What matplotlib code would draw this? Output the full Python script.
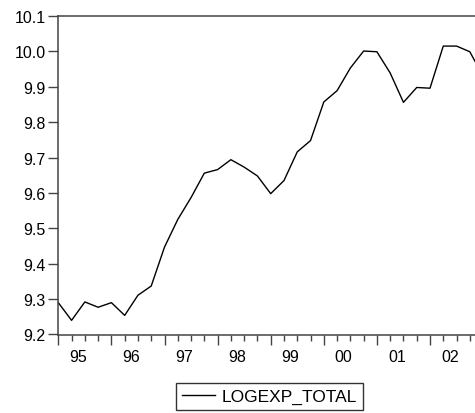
import numpy as np
import matplotlib
matplotlib.use("Agg")
import matplotlib.pyplot as plt
from matplotlib.ticker import MultipleLocator, FormatStrFormatter

plt.rcParams['font.family'] = ['Liberation Sans', 'DejaVu Sans']

# quarterly series, 1995Q1 onward
logexp_total = [9.290, 9.240, 9.292, 9.277, 9.290, 9.254, 9.311, 9.337,
                9.447, 9.525, 9.587, 9.656, 9.666, 9.694, 9.673, 9.648,
                9.598, 9.635, 9.716, 9.748, 9.857, 9.889, 9.953, 10.001,
                9.999, 9.939, 9.856, 9.898, 9.896, 10.015, 10.015, 9.999,
                9.930]
year_labels = ["95", "96", "97", "98", "99", "00", "01", "02"]
series_name = "LOGEXP_TOTAL"

x = np.arange(len(logexp_total))

fig = plt.figure(figsize=(4.75, 4.14), dpi=100)
# axes run past the right edge, like the cropped original
ax = fig.add_axes([58.3 / 475, 78.5 / 414, 32 * 13.275 / 475, 318.5 / 414])

line, = ax.plot(x, logexp_total, color='black', lw=1.0, label=series_name)

ax.set_xlim(0, 32)
ax.set_ylim(9.2, 10.1)
ax.yaxis.set_major_locator(MultipleLocator(0.1))
ax.yaxis.set_major_formatter(FormatStrFormatter('%.1f'))

ax.xaxis.set_major_locator(MultipleLocator(4))
ax.xaxis.set_minor_locator(MultipleLocator(1))
ax.set_xticklabels([])
for i, lab in enumerate(year_labels):
    ax.text(4 * i + 1.5, -0.045, lab, transform=ax.get_xaxis_transform(),
            ha='center', va='top', fontsize=11.5)

ax.tick_params(axis='y', which='major', direction='out', length=7, width=1,
               color='#444444', labelsize=11.5, pad=2)
ax.tick_params(axis='x', which='major', direction='out', length=7, width=1,
               color='#444444')
ax.tick_params(axis='x', which='minor', direction='out', length=4, width=1,
               color='#444444')

for s in ['left', 'bottom', 'top', 'right']:
    ax.spines[s].set_color('#444444')
    ax.spines[s].set_linewidth(1.1)

leg = fig.legend(handles=[line], loc='center',
                 bbox_to_anchor=(269.7 / 475, 16.5 / 414),
                 fontsize=12.5, frameon=True, fancybox=False,
                 edgecolor='black', handlelength=1.85, handletextpad=0.4,
                 borderpad=0.35, borderaxespad=0)
leg.get_frame().set_linewidth(1.0)

fig.savefig('out.png', dpi=100)
